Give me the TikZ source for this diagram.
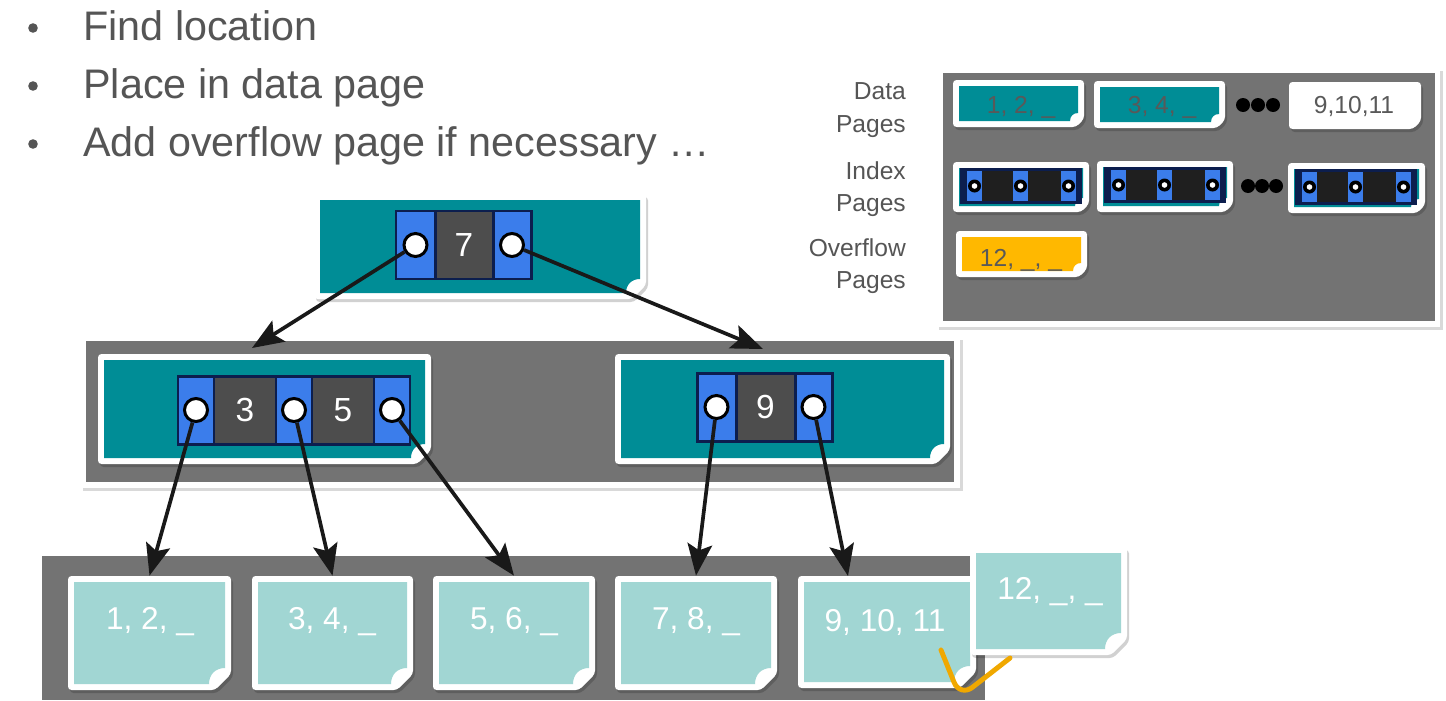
\documentclass[tikz,border=0pt]{standalone}
\usepackage{fontspec}
\setmainfont{Liberation Sans}
\usetikzlibrary{arrows.meta,fit,positioning}

\definecolor{pageteal}{RGB}{0,141,150}
\definecolor{leafteal}{RGB}{161,214,211}
\definecolor{ptrblue}{RGB}{59,125,235}
\definecolor{blocknavy}{RGB}{12,30,78}
\definecolor{keygray}{RGB}{77,77,77}
\definecolor{panelgray}{RGB}{115,115,115}
\definecolor{ovfyellow}{RGB}{255,184,0}
\definecolor{markorange}{RGB}{240,168,0}
\definecolor{slidetext}{RGB}{85,85,85}

% page with folded corner: name, x1, y1, x2, y2, fill, fold size
\newcommand{\sheet}[7]{%
  \fill[black, opacity=.18, rounded corners=2] (#2+2,#3+3) -- (#4+2,#3+3) -- (#4+2,#5+3-#7) -- (#4+2-#7,#5+3) -- (#2+2,#5+3) -- cycle;
  \fill[white, rounded corners=2] (#2,#3) -- (#4,#3) -- (#4,#5-#7) -- (#4-#7,#5) -- (#2,#5) -- cycle;
  \fill[#6] (#2+6,#3+6) -- (#4-6,#3+6) -- (#4-6,#5-6-#7)
    .. controls (#4-6-0.6*#7,#5-6-#7) and (#4-6-#7,#5-6-0.6*#7) .. (#4-6-#7,#5-6) -- (#2+6,#5-6) -- cycle;
  \node[fit={(#2,#3) (#4,#5)}, inner sep=0] (#1) {};
}

% small index block of the legend: left, top
\newcommand{\miniidx}[2]{%
  \fill[blocknavy] (#1,#2) rectangle (#1+122,#2+36);
  \fill[black!88] (#1+22,#2+3) rectangle (#1+53,#2+33);
  \fill[black!88] (#1+68,#2+3) rectangle (#1+101,#2+33);
  \foreach \dx in {7,53,101} {
    \fill[ptrblue] (#1+\dx,#2+3) rectangle (#1+\dx+15,#2+33);
    \fill[black] (#1+\dx+7.5,#2+18) circle (6.5);
    \fill[white] (#1+\dx+7.5,#2+18) circle (2.8);
  }
}

\begin{document}
\begin{tikzpicture}[x=0.02cm, y=-0.02cm,
    slide/.style={text=slidetext, font=\fontsize{23.5}{28}\selectfont, anchor=base west, inner sep=0},
    legend/.style={text=slidetext, font=\fontsize{14}{18.5}\selectfont, align=right, anchor=east},
    smalllabel/.style={text=black!65, font=\fontsize{14}{17}\selectfont},
    leaflabel/.style={text=white, font=\fontsize{18}{22}\selectfont},
    keylabel/.style={text=white, font=\fontsize{19}{22}\selectfont},
    blockline/.style={draw=blocknavy, line width=1.7pt},
    ptr/.style={circle, fill=white, draw=black, line width=1.7pt, minimum size=0.46cm, inner sep=0},
    ptrarrow/.style={draw=black!90, line width=2.1pt, -{Stealth[length=18pt, width=14pt, inset=3.5pt]}},
  ]
  \fill[white] (0,0) rectangle (1446,700);
  \useasboundingbox (0,0) rectangle (1446,700);

  % Bullet list
  \foreach \y in {28,86,144}
    \fill[slidetext] (33,\y) circle (4.8);
  \node[slide] (find) at (83,40) {Find location};
  \node[slide] (place) at (83,98) {Place in data page};
  \node[slide] (add) at (83,156) {Add overflow page if necessary \dots};

  % Legend
  \fill[black, opacity=.15] (939,71) rectangle (1443,330);
  \fill[white] (937,68) rectangle (1440,327);
  \fill[panelgray] (943,73) rectangle (1435,321);
  \node[legend] (lgdata) at (912,110) {Data\\Pages};
  \node[legend] (lgindex) at (912,189) {Index\\Pages};
  \node[legend] (lgover) at (912,266) {Overflow\\Pages};

  \sheet{dA}{953}{80}{1084}{127}{pageteal}{8}
  \sheet{dB}{1094}{81}{1225}{128}{pageteal}{8}
  \sheet{dC}{1289}{82}{1421}{129}{white}{8}
  \node[smalllabel] (tdA) at (1021,107) {1, 2, \_};
  \node[smalllabel] (tdB) at (1162,107) {3, 4, \_};
  \node[smalllabel] (tdC) at (1354,106) {9,10,11};
  \foreach \x in {1243,1258,1273}
    \fill[black] (\x,105) circle (7);

  \sheet{iA}{953}{162}{1089}{212}{pageteal}{8}
  \sheet{iB}{1097}{161}{1233}{212}{pageteal}{8}
  \sheet{iC}{1288}{163}{1425}{213}{pageteal}{8}
  \miniidx{960}{168}
  \miniidx{1104}{167}
  \miniidx{1295}{169}
  \foreach \x in {1248,1262,1276}
    \fill[black] (\x,186) circle (7);

  \sheet{oA}{956}{231}{1087}{277}{ovfyellow}{8}
  \node[smalllabel] (toA) at (1021,260) {12, \_, \_};

  % Root page
  \sheet{root}{314}{194}{646}{299}{pageteal}{14}
  \draw[blockline, fill=ptrblue] (396,211) rectangle (435,279);
  \draw[blockline, fill=keygray] (435,211) rectangle (493,279);
  \draw[blockline, fill=ptrblue] (493,211) rectangle (531,279);
  \node[keylabel] (k7) at (464,245) {7};

  % Second level
  \fill[black, opacity=.15] (83,340) rectangle (963,491);
  \fill[white] (80,336) rectangle (960,488);
  \fill[panelgray] (86,341) rectangle (954,482);
  \sheet{lvA}{98}{354}{431}{464}{pageteal}{14}
  \sheet{lvB}{615}{354}{950}{464}{pageteal}{14}

  \draw[blockline, fill=ptrblue] (178,376) rectangle (214,444);
  \draw[blockline, fill=keygray] (214,376) rectangle (276,444);
  \draw[blockline, fill=ptrblue] (276,376) rectangle (312,444);
  \draw[blockline, fill=keygray] (312,376) rectangle (374,444);
  \draw[blockline, fill=ptrblue] (374,376) rectangle (410,444);
  \node[keylabel] (k3) at (245,410) {3};
  \node[keylabel] (k5) at (343,410) {5};

  \draw[blockline, fill=ptrblue] (697,373) rectangle (736,441);
  \draw[blockline, fill=keygray] (736,373) rectangle (795,441);
  \draw[blockline, fill=ptrblue] (795,373) rectangle (832,441);
  \node[keylabel] (k9) at (765.5,407) {9};

  % Leaf level
  \fill[panelgray] (42,556) rectangle (985,700);
  \sheet{leafA}{68}{576}{231}{690}{leafteal}{16}
  \sheet{leafB}{252}{576}{413}{690}{leafteal}{16}
  \sheet{leafC}{433}{576}{595}{690}{leafteal}{16}
  \sheet{leafD}{615}{576}{777}{690}{leafteal}{16}
  \sheet{leafE}{798}{576}{976}{688}{leafteal}{16}
  \node[leaflabel] (tA) at (150,622) {1, 2, \_};
  \node[leaflabel] (tB) at (332,622) {3, 4, \_};
  \node[leaflabel] (tC) at (514,622) {5, 6, \_};
  \node[leaflabel] (tD) at (696,622) {7, 8, \_};
  \node[leaflabel] (tE) at (885,622) {9, 10, 11};

  % Overflow page
  \sheet{ovf}{970}{547}{1127}{655}{leafteal}{16}
  \node[leaflabel] (tO) at (1050,592) {12, \_, \_};
  \draw[markorange, line width=2.8pt, line cap=round, rounded corners=9] (941,650) -- (960,697) -- (1010,658);

  % Pointers
  \node[ptr] (r7l) at (415.5,245) {};
  \node[ptr] (r7r) at (512,245) {};
  \node[ptr] (p3l) at (196,410) {};
  \node[ptr] (p35) at (294,410) {};
  \node[ptr] (p5r) at (392,410) {};
  \node[ptr] (p9l) at (716.5,407) {};
  \node[ptr] (p9r) at (813.5,407) {};

  \coordinate (tipL) at (252,348);
  \coordinate (tipR) at (763,349);
  \coordinate (tipE) at (848,576);

  \draw[ptrarrow] (r7l) -- (tipL);
  \draw[ptrarrow] (r7r) -- (tipR);
  \draw[ptrarrow] (p3l) -- (leafA.north);
  \draw[ptrarrow] (p35) -- (leafB.north);
  \draw[ptrarrow] (p5r) -- (leafC.north);
  \draw[ptrarrow] (p9l) -- (leafD.north);
  \draw[ptrarrow] (p9r) -- (tipE);
\end{tikzpicture}
\end{document}
